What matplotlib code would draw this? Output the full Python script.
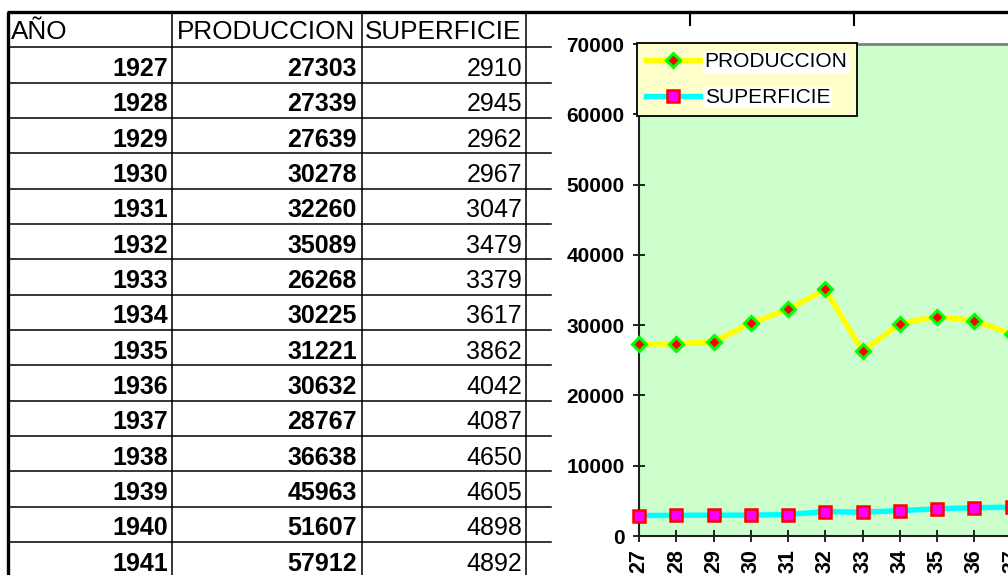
import matplotlib
matplotlib.use('Agg')
import matplotlib.pyplot as plt

plt.rcParams['font.family'] = ['Liberation Sans', 'DejaVu Sans']

anios = [1927, 1928, 1929, 1930, 1931, 1932, 1933, 1934, 1935, 1936, 1937, 1938, 1939, 1940, 1941]
produccion = [27303, 27339, 27639, 30278, 32260, 35089, 26268, 30225, 31221, 30632, 28767, 36638, 45963, 51607, 57912]
superficie = [2910, 2945, 2962, 2967, 3047, 3479, 3379, 3617, 3862, 4042, 4087, 4650, 4605, 4898, 4892]
encabezados = ['AÑO', 'PRODUCCION', 'SUPERFICIE']

W, H = 1008, 575
fig = plt.figure(figsize=(W / 100, H / 100), dpi=100)

# hoja de calculo (coordenadas en pixeles)
hoja = fig.add_axes([0, 0, 1, 1], zorder=0)
hoja.set_xlim(0, W)
hoja.set_ylim(H, 0)
hoja.axis('off')

top = 12
row_h = 35.33
col_x = [8, 172, 362, 526]

hoja.plot([7, W], [top, top], color='black', lw=2.4, solid_capstyle='butt')
hoja.plot([8, 8], [top, H], color='black', lw=2.4, solid_capstyle='butt')
for cx in col_x[1:]:
    hoja.plot([cx, cx], [top, H], color='black', lw=1.1)
for k in range(1, 16):
    y = top + k * row_h
    hoja.plot([8, 551], [y, y], color='black', lw=1.1)
# lineas de columnas que asoman sobre el grafico
for cx in [690, 854]:
    hoja.plot([cx, cx], [top, 25], color='black', lw=1.5)

hx = [11, 177, 365]
for t, x in zip(encabezados, hx):
    hoja.text(x, top + row_h - 8, t, fontsize=18.8, ha='left', va='baseline')

for i in range(len(anios)):
    yb = top + (i + 2) * row_h - 6.5
    hoja.text(168, yb, str(anios[i]), fontsize=18, fontweight='bold', ha='right', va='baseline')
    hoja.text(357, yb, str(produccion[i]), fontsize=18, fontweight='bold', ha='right', va='baseline')
    hoja.text(522, yb, str(superficie[i]), fontsize=18, ha='right', va='baseline')

# grafico
n = len(anios)
ax = fig.add_axes([639 / W, 39 / H, 37.27 * (n - 1) / W, 492 / H], zorder=2)
ax.set_facecolor('#CCFFCC')
xs = list(range(n))
ax.plot(xs, produccion, color='#FFFF00', lw=3.9, marker='D', ms=6.8,
        mfc='#FF0000', mec='#00FF00', mew=2.2, label='PRODUCCION', clip_on=False, zorder=3)
ax.plot(xs, superficie, color='#00FFFF', lw=3.9, marker='s', ms=9.2,
        mfc='#FF00FF', mec='#FF0000', mew=1.8, label='SUPERFICIE', clip_on=False, zorder=4)

ax.set_xlim(0, n - 1)
ax.set_ylim(0, 70000)
ax.set_yticks(range(0, 70001, 10000))
ax.set_xticks(xs)
ax.set_xticklabels([str(a)[2:] for a in anios], rotation=90, fontsize=15.5, fontweight='bold')
plt.setp(ax.get_yticklabels(), fontsize=15, fontweight='bold')
ax.tick_params(axis='y', direction='inout', length=9, width=1.2, pad=6)
ax.tick_params(axis='x', direction='inout', length=9, width=1.2, pad=5)
for s in ['left', 'bottom']:
    ax.spines[s].set_color('#202020')
    ax.spines[s].set_linewidth(1.5)
for s in ['top', 'right']:
    ax.spines[s].set_color('#808080')
    ax.spines[s].set_linewidth(2)

leg = ax.legend(loc='upper left', bbox_to_anchor=(637 / W, 1 - 43 / H),
                bbox_transform=fig.transFigure, borderaxespad=0, fontsize=15,
                handlelength=2.6, handletextpad=0.2, labelspacing=0.8,
                borderpad=0.45, fancybox=False, framealpha=1,
                facecolor='#FFFFCC', edgecolor='black')
leg.get_frame().set_linewidth(1.3)
for t in leg.get_texts():
    t.set_bbox(dict(facecolor='white', edgecolor='none', pad=1))

fig.savefig('out.png', dpi=100)
